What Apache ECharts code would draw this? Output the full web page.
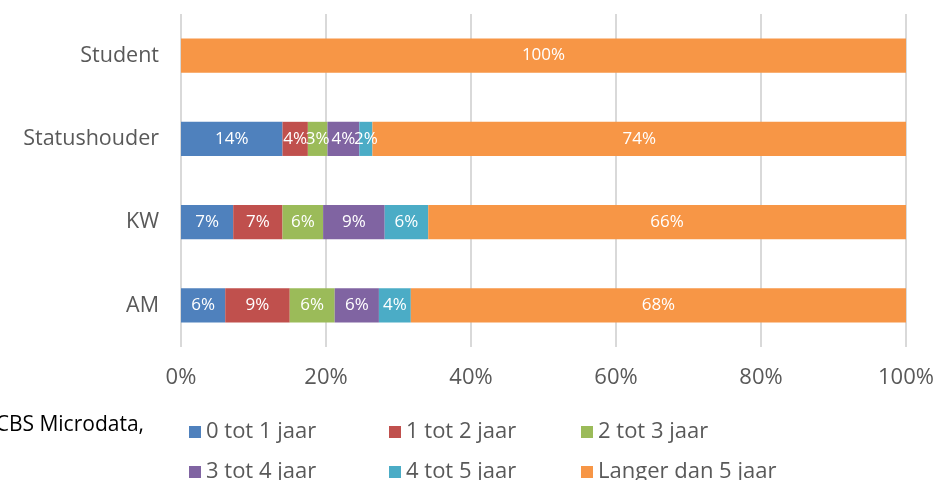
<!DOCTYPE html>
<html>
<head>
<meta charset="utf-8">
<script src="https://cdn.jsdelivr.net/npm/echarts@6/dist/echarts.min.js"></script>
<style>
  html, body { margin: 0; padding: 0; background: #fff; }
  #chart { width: 938px; height: 480px; }
</style>
</head>
<body>
<div id="chart"></div>
<script>
// categories, bottom to top (category axis runs upwards)
var groepen = ['AM', 'KW', 'Statushouder', 'Student'];
var klassen = ['0 tot 1 jaar', '1 tot 2 jaar', '2 tot 3 jaar', '3 tot 4 jaar', '4 tot 5 jaar', 'Langer dan 5 jaar'];

// share per group (%), same order as groepen
var jaar0tot1 = [6.1, 7.2, 14.0, 0];
var jaar1tot2 = [8.9, 6.8, 3.5, 0];
var jaar2tot3 = [6.2, 5.6, 2.7, 0];
var jaar3tot4 = [6.1, 8.5, 4.4, 0];
var jaar4tot5 = [4.4, 6.0, 1.8, 0];
var langer5 = [68.3, 65.9, 73.6, 100];

var xTicks = [0, 20, 40, 60, 80, 100];

var kleuren = ['#4F81BD', '#C0504D', '#9BBB59', '#8064A2', '#4BACC6', '#F79646'];
var reeksen = [jaar0tot1, jaar1tot2, jaar2tot3, jaar3tot4, jaar4tot5, langer5];
var font = '"Open Sans", sans-serif';

var mChart = echarts.init(document.getElementById('chart'));

var series = reeksen.map(function(vals, i) {
    return {
        name: klassen[i],
        type: 'bar',
        stack: 'totaal',
        barCategoryGap: '59%',
        data: vals,
        itemStyle: { color: kleuren[i] },
        label: {
            show: true,
            color: '#fff',
            fontFamily: font,
            fontSize: 17,
            formatter: function(p) {
                return p.value > 0 ? Math.round(p.value) + '%' : '';
            }
        }
    };
});

// legend: three columns of two rows, one legend per entry
var kolomX = [184, 384, 576];
var rijY = [416, 456];
var legends = klassen.map(function(naam, i) {
    return {
        left: kolomX[i % 3],
        top: rijY[Math.floor(i / 3)],
        itemWidth: 12,
        itemHeight: 12,
        itemGap: 0,
        icon: 'rect',
        selectedMode: false,
        data: [naam],
        textStyle: { fontFamily: font, fontSize: 22, color: '#595959', padding: [0, 0, 0, 0] }
    };
});

mChart.setOption({
    animation: false,
    grid: { left: 181, right: 32, top: 14, height: 333 },
    xAxis: {
        type: 'value',
        min: xTicks[0],
        max: xTicks[xTicks.length - 1],
        interval: 20,
        axisLine: { show: false },
        axisTick: { show: false },
        splitLine: { lineStyle: { color: '#D9D9D9', width: 2 } },
        axisLabel: {
            margin: 20,
            color: '#595959',
            fontFamily: font,
            fontSize: 22,
            formatter: '{value}%'
        }
    },
    yAxis: {
        type: 'category',
        data: groepen,
        axisLine: { show: false },
        axisTick: { show: false },
        axisLabel: { margin: 22, color: '#595959', fontFamily: font, fontSize: 21.5 }
    },
    legend: legends,
    graphic: [{
        type: 'text',
        x: 144,
        y: 425,
        style: {
            text: 'CBS Microdata,',
            fill: '#000',
            font: '21px ' + font,
            textAlign: 'right',
            textVerticalAlign: 'middle'
        }
    }],
    series: series
});
</script>
</body>
</html>
